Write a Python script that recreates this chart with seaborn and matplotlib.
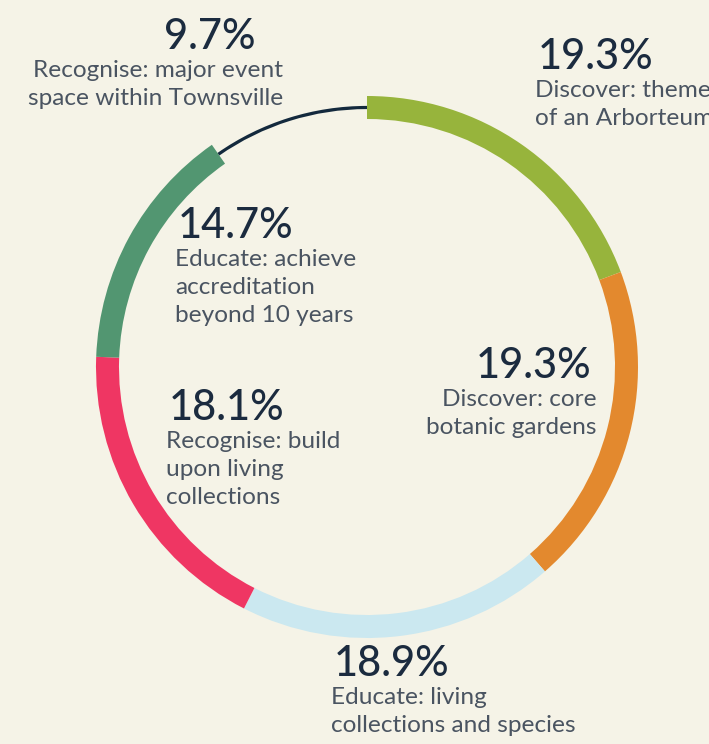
import matplotlib.pyplot as plt
import seaborn as sns

# segments, clockwise from 12 o'clock
shares = [19.3, 19.3, 18.9, 18.1, 14.7, 9.7]
labels = [
    "Discover: themes\nof an Arborteum",
    "Discover: core\nbotanic gardens",
    "Educate: living\ncollections and species",
    "Recognise: build\nupon living\ncollections",
    "Educate: achieve\naccreditation\nbeyond 10 years",
    "Recognise: major event\nspace within Townsville",
]
colors = ["#97B43C", "#E3892E", "#CBE8F0", "#EF3663", "#529671", "#13293D"]

BG = "#F5F3E7"
NAVY = "#1B2B3F"
GREY = "#4A5461"

sns.set_theme(style="white", rc={"figure.facecolor": BG, "axes.facecolor": BG})
plt.rcParams["font.family"] = ["Lato", "DejaVu Sans"]

W, H = 709, 744
fig = plt.figure(figsize=(W / 100, H / 100), dpi=100)
ax = fig.add_axes([0, 0, 1, 1])

cx, cy = 367, H - 367
r_out, ring = 271, 23

# thick ring; the last (smallest) share is drawn as a thin line instead
ring_colors = colors[:-1] + ["none"]
ax.pie(shares, colors=ring_colors, startangle=90, counterclock=False,
       center=(cx, cy), radius=r_out,
       wedgeprops=dict(width=ring, linewidth=0))
line_colors = ["none"] * (len(shares) - 1) + [colors[-1]]
r_mid = r_out - ring / 2
ax.pie(shares, colors=line_colors, startangle=90, counterclock=False,
       center=(cx, cy), radius=r_mid + 1.6,
       wedgeprops=dict(width=3.2, linewidth=0))

ax.set_xlim(0, W)
ax.set_ylim(0, H)
ax.set_aspect("equal")
ax.axis("off")

# label anchors: (x, top of percent, alignment)
anchors = [
    (535, 38, "left"),
    (597, 347, "right"),
    (331, 645, "left"),
    (166, 389, "left"),
    (175, 207, "left"),
    (283, 18, "right"),
]
pct_anchor = {1: (591, "right"), 5: (256, "right")}

for i, (share, text) in enumerate(zip(shares, labels)):
    x, y, ha = anchors[i]
    px, pha = pct_anchor.get(i, (x + 3, ha))
    ax.text(px, H - y, f"{share}%", ha=pha, va="top", fontsize=30,
            color=NAVY, fontweight="medium")
    ax.text(x, H - y - 42, text, ha=ha, va="top", fontsize=17.6,
            color=GREY, fontweight="normal", linespacing=1.4)

fig.savefig("out.png", dpi=100, facecolor=BG)
